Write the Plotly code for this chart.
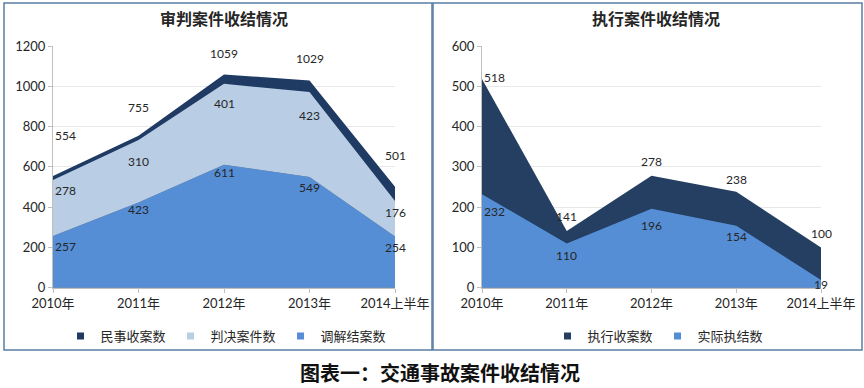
import plotly.graph_objects as go

# ---------------- data ----------------
categories = ["2010年", "2011年", "2012年", "2013年", "2014上半年"]

# left chart: 审判案件收结情况
civil_received = [554, 755, 1059, 1029, 501]      # 民事收案数
judged = [278, 310, 401, 423, 176]                 # 判决案件数
mediated = [257, 423, 611, 549, 254]               # 调解结案数

# right chart: 执行案件收结情况
exec_received = [518, 141, 278, 238, 100]          # 执行收案数
exec_closed = [232, 110, 196, 154, 19]             # 实际执结数

left_title = "审判案件收结情况"
right_title = "执行案件收结情况"
caption = "图表一：交通事故案件收结情况"

# ---------------- style ----------------
DARK_L = "#1F3B63"
DARK_R = "#243F62"
LIGHT = "#B9CDE5"
MID = "#558ED5"
TXT = "#262626"
NUM_FONT = "Lato, 'Noto Sans CJK SC', sans-serif"
CJK_FONT = "'Noto Sans CJK SC', sans-serif"

# per-label vertical offsets (pixels) for data labels
shift_civil = [41, 28, 21, 22, 31]
shift_judged = [-11, -21, -20, -24, -11]
shift_mediated = [-11, -7, -8, -10, -11]
shift_exec_recv = [2, 14, 14, 12, 14]
shift_exec_closed = [-17, -12, -17, -11, -4]

fig = go.Figure()

# ----- left chart areas -----
fig.add_trace(go.Scatter(x=categories, y=civil_received, mode="lines", fill="tozeroy",
                         fillcolor=DARK_L, line=dict(width=0, color=DARK_L),
                         showlegend=False, hoverinfo="skip", xaxis="x", yaxis="y"))
fig.add_trace(go.Scatter(x=categories, y=mediated, mode="lines", stackgroup="left",
                         fillcolor=MID, line=dict(width=0, color=MID),
                         showlegend=False, xaxis="x", yaxis="y"))
fig.add_trace(go.Scatter(x=categories, y=judged, mode="lines", stackgroup="left",
                         fillcolor=LIGHT, line=dict(width=0, color=LIGHT),
                         showlegend=False, xaxis="x", yaxis="y"))

# ----- right chart areas -----
fig.add_trace(go.Scatter(x=categories, y=exec_received, mode="lines", fill="tozeroy",
                         fillcolor=DARK_R, line=dict(width=0, color=DARK_R),
                         showlegend=False, xaxis="x2", yaxis="y2"))
fig.add_trace(go.Scatter(x=categories, y=exec_closed, mode="lines", fill="tozeroy",
                         fillcolor=MID, line=dict(width=0, color=MID),
                         showlegend=False, xaxis="x2", yaxis="y2"))

# ----- legend entries -----
def legend_entry(name, color, legend):
    fig.add_trace(go.Scatter(x=[None], y=[None], mode="markers", name=name,
                             marker=dict(symbol="square", size=7, color=color),
                             legend=legend, xaxis="x", yaxis="y"))

legend_entry("民事收案数", DARK_L, "legend")
legend_entry("判决案件数", LIGHT, "legend")
legend_entry("调解结案数", MID, "legend")
legend_entry("执行收案数", DARK_R, "legend2")
legend_entry("实际执结数", MID, "legend2")

# ----- data labels -----
annotations = []
def add_labels(values, ypos, shifts, xref, yref):
    for i, (v, y, s) in enumerate(zip(values, ypos, shifts)):
        annotations.append(dict(
            x=categories[i], y=y, xref=xref, yref=yref, text=str(v), showarrow=False,
            xanchor="left" if i == 0 else "center", yanchor="middle", yshift=s,
            font=dict(family=NUM_FONT, size=12, color=TXT)))

stack_top = [m + j for m, j in zip(mediated, judged)]
add_labels(civil_received, civil_received, shift_civil, "x", "y")
add_labels(judged, stack_top, shift_judged, "x", "y")
add_labels(mediated, mediated, shift_mediated, "x", "y")
add_labels(exec_received, exec_received, shift_exec_recv, "x2", "y2")
add_labels(exec_closed, exec_closed, shift_exec_closed, "x2", "y2")

# titles
def paper_text(text, xpx, ypx, size, color):
    annotations.append(dict(x=xpx / 864, y=(388 - ypx) / 388, xref="paper", yref="paper",
                            text=text, showarrow=False, xanchor="center", yanchor="middle",
                            font=dict(family=CJK_FONT, size=size, color=color)))

paper_text("<b>" + left_title + "</b>", 224, 18, 16, TXT)
paper_text("<b>" + right_title + "</b>", 656, 18, 16, TXT)
paper_text("<b>" + caption + "</b>", 440, 372, 20, "#111111")

# panel borders
BORDER = "#5A7DA3"
shapes = [
    dict(type="rect", xref="paper", yref="paper", x0=4 / 864, x1=432 / 864,
         y0=(388 - 350) / 388, y1=(388 - 3) / 388, line=dict(color=BORDER, width=1.5)),
    dict(type="rect", xref="paper", yref="paper", x0=433 / 864, x1=862 / 864,
         y0=(388 - 350) / 388, y1=(388 - 3) / 388, line=dict(color=BORDER, width=1.5)),
]

xaxis_common = dict(type="category", range=[0, 4], showgrid=False, showline=True,
                    linecolor="#BFBFBF", linewidth=1, ticks="outside", ticklen=4,
                    tickcolor="#BFBFBF", tickfont=dict(family=NUM_FONT, size=13, color=TXT),
                    fixedrange=True, automargin=False)
yaxis_common = dict(showgrid=True, gridcolor="#E8E8E8", gridwidth=1, showline=True,
                    linecolor="#BFBFBF", linewidth=1, ticks="outside", ticklen=4,
                    tickcolor="#BFBFBF", tickfont=dict(family=NUM_FONT, size=13, color=TXT),
                    zeroline=False, fixedrange=True, automargin=False)

y0 = (388 - 287.7) / 388
y1 = (388 - 46) / 388

fig.update_layout(
    width=864, height=388,
    margin=dict(l=0, r=0, t=0, b=0, pad=0, autoexpand=False),
    paper_bgcolor="white", plot_bgcolor="white",
    xaxis=dict(xaxis_common, domain=[53 / 864, 395 / 864], anchor="y"),
    yaxis=dict(yaxis_common, domain=[y0, y1], range=[0, 1200], dtick=200, anchor="x"),
    xaxis2=dict(xaxis_common, domain=[482 / 864, 821 / 864], anchor="y2"),
    yaxis2=dict(yaxis_common, domain=[y0, y1], range=[0, 600], dtick=100, anchor="x2"),
    legend=dict(orientation="h", x=226 / 864, xanchor="center", y=(388 - 336) / 388,
                yanchor="middle", font=dict(family=CJK_FONT, size=13, color=TXT),
                itemwidth=30, bgcolor="rgba(0,0,0,0)", traceorder="normal"),
    legend2=dict(orientation="h", x=658 / 864, xanchor="center", y=(388 - 336) / 388,
                 yanchor="middle", font=dict(family=CJK_FONT, size=13, color=TXT),
                 itemwidth=30, bgcolor="rgba(0,0,0,0)", traceorder="normal"),
    annotations=annotations,
    shapes=shapes,
    showlegend=True,
)

fig.write_html(
    "out.html",
    config={"displayModeBar": False},
    post_script="document.body.style.margin='0';document.body.style.overflow='hidden';",
)
